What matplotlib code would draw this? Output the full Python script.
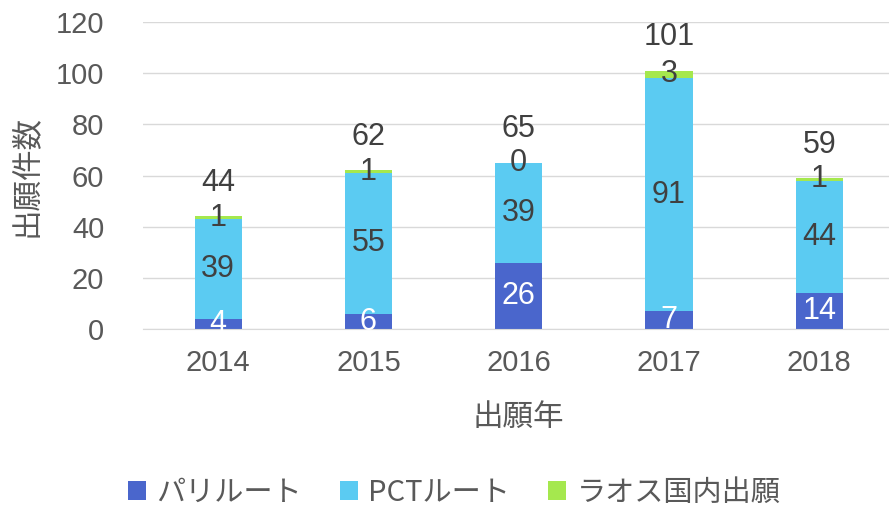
import numpy as np
import matplotlib
matplotlib.use("Agg")
from matplotlib import pyplot as plt

years = ["2014", "2015", "2016", "2017", "2018"]
paris = [4, 6, 26, 7, 14]
pct = [39, 55, 39, 91, 44]
laos = [1, 1, 0, 3, 1]
totals = [44, 62, 65, 101, 59]
series_names = ["パリルート", "PCTルート", "ラオス国内出願"]
colors = ["#4A66CC", "#5BCBF2", "#A5E84E"]

jp = ["Noto Sans CJK JP", "DejaVu Sans"]
num_font = "Liberation Sans"
fs = 22

fig = plt.figure(figsize=(8.89, 5.08), dpi=100)
ax = fig.add_axes([0.161, 0.352, 0.845, 0.605])

x = np.arange(len(years))
w = 0.315
b1 = ax.bar(x, paris, w, color=colors[0], label=series_names[0], zorder=2)
b2 = ax.bar(x, pct, w, bottom=paris, color=colors[1], label=series_names[1], zorder=2)
bottom3 = np.array(paris) + np.array(pct)
b3 = ax.bar(x, laos, w, bottom=bottom3, color=colors[2], label=series_names[2], zorder=2)

for i in range(len(years)):
    ax.text(x[i], paris[i] / 2, str(paris[i]), ha="center", va="center",
            color="white", fontsize=fs, family=num_font, zorder=3)
    ax.text(x[i], paris[i] + pct[i] / 2, str(pct[i]), ha="center", va="center",
            color="#404040", fontsize=fs, family=num_font, zorder=3)
    ax.text(x[i], bottom3[i] + laos[i] / 2, str(laos[i]), ha="center", va="center",
            color="#404040", fontsize=fs, family=num_font, zorder=3)
    ax.text(x[i], totals[i] + 13, str(totals[i]), ha="center", va="center",
            color="#404040", fontsize=fs, family=num_font, zorder=3)

ax.set_ylim(0, 120)
ax.set_xlim(-0.5, 4.5)
ax.set_yticks(range(0, 121, 20))
ax.set_xticks(x)
ax.set_xticklabels(years)
ax.yaxis.grid(True, color="#D9D9D9", linewidth=1, zorder=0)
ax.set_axisbelow(True)
for s in ax.spines.values():
    s.set_visible(False)
ax.spines["bottom"].set_visible(True)
ax.spines["bottom"].set_color("#D9D9D9")
ax.tick_params(length=0, labelsize=21, labelcolor="#595959")
ax.tick_params(axis="x", pad=14)
ax.tick_params(axis="y", pad=28)
for lab in ax.get_xticklabels() + ax.get_yticklabels():
    lab.set_family(num_font)

ax.set_ylabel("出願件数", family=jp, fontsize=22, color="#595959", labelpad=10)
ax.set_xlabel("出願年", family=jp, fontsize=22, color="#595959", labelpad=18)

leg = fig.legend(handles=[b1, b2, b3], labels=series_names, loc="center",
                 bbox_to_anchor=(0.511, 0.03), ncol=3, frameon=False,
                 prop={"family": jp, "size": 21}, handlelength=0.62, handleheight=0.62,
                 columnspacing=1.3, handletextpad=0.35)
for t in leg.get_texts():
    t.set_color("#595959")

fig.savefig("out.png", dpi=100)
